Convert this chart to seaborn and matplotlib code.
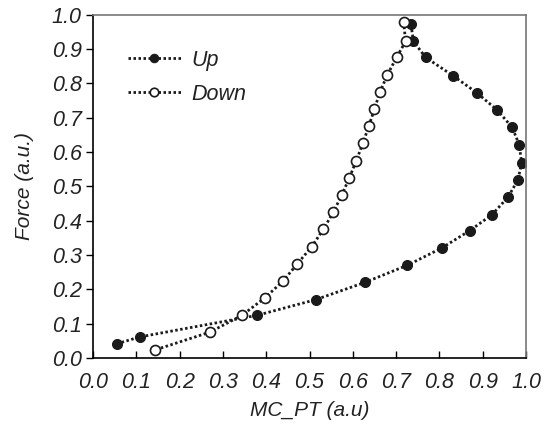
import matplotlib
matplotlib.use("Agg")
import matplotlib.pyplot as plt
import seaborn as sns
import pandas as pd

up_x = [0.055, 0.108, 0.379, 0.515, 0.628, 0.726, 0.805, 0.870, 0.921, 0.958,
        0.981, 0.990, 0.984, 0.968, 0.933, 0.886, 0.831, 0.768, 0.740, 0.734]
up_y = [0.041, 0.061, 0.124, 0.170, 0.220, 0.270, 0.320, 0.371, 0.417, 0.468,
        0.518, 0.568, 0.622, 0.672, 0.723, 0.773, 0.823, 0.876, 0.923, 0.974]
down_x = [0.717, 0.722, 0.702, 0.680, 0.663, 0.650, 0.637, 0.623, 0.608, 0.592,
          0.575, 0.555, 0.532, 0.505, 0.471, 0.439, 0.396, 0.344, 0.270, 0.143]
down_y = [0.980, 0.923, 0.878, 0.826, 0.776, 0.726, 0.676, 0.625, 0.575, 0.525,
          0.476, 0.425, 0.375, 0.324, 0.273, 0.224, 0.174, 0.124, 0.075, 0.023]
x_ticks = [0.0, 0.1, 0.2, 0.3, 0.4, 0.5, 0.6, 0.7, 0.8, 0.9, 1.0]
y_ticks = [0.0, 0.1, 0.2, 0.3, 0.4, 0.5, 0.6, 0.7, 0.8, 0.9, 1.0]

sns.set_style("white")
plt.rcParams['font.family'] = ['Liberation Sans', 'DejaVu Sans']

fig = plt.figure(figsize=(5.44, 4.25), dpi=100)
ax = fig.add_axes([0.171, 0.158, 0.796, 0.807])

df_up = pd.DataFrame({"x": up_x, "y": up_y})
df_dn = pd.DataFrame({"x": down_x, "y": down_y})

dot = (0, (0.9, 0.9))
sns.lineplot(data=df_up, x="x", y="y", sort=False, ax=ax, color="#1a1a1a",
             linestyle=dot, linewidth=2.0, marker="o", markersize=7.2,
             markerfacecolor="#1a1a1a", markeredgecolor="#1a1a1a", label="Up")
sns.lineplot(data=df_dn, x="x", y="y", sort=False, ax=ax, color="#1a1a1a",
             linestyle=dot, linewidth=2.0, marker="o", markersize=7.2,
             markerfacecolor="white", markeredgecolor="#1a1a1a",
             markeredgewidth=1.2, label="Down")

ax.set_xlim(0, 1.0)
ax.set_ylim(0, 1.0)
ax.set_xticks(x_ticks)
ax.set_yticks(y_ticks)
ax.set_xticklabels([f"{t:.1f}" for t in x_ticks])
ax.set_yticklabels([f"{t:.1f}" for t in y_ticks])

for lab in ax.get_xticklabels() + ax.get_yticklabels():
    lab.set_fontstyle("italic")
    lab.set_fontsize(15.5)
    lab.set_color("#222222")

ax.tick_params(axis="x", direction="in", length=5, width=1, color="black", pad=10,
               bottom=True)
ax.tick_params(axis="y", direction="out", length=5, width=1, color="black", pad=3,
               left=True)

for side in ["left", "bottom"]:
    ax.spines[side].set_color("black")
    ax.spines[side].set_linewidth(1.2)
for side in ["top", "right"]:
    ax.spines[side].set_color("#777777")
    ax.spines[side].set_linewidth(1.2)

ax.set_xlabel("MC_PT (a.u)", fontsize=15, fontstyle="italic", color="#222222", labelpad=6)
ax.set_ylabel("Force (a.u.)", fontsize=15, fontstyle="italic", color="#222222", labelpad=13)

leg = ax.legend(loc="upper left", bbox_to_anchor=(0.035, 0.955), frameon=False,
                fontsize=15.5, handlelength=2.5, handletextpad=0.45,
                labelspacing=0.62, markerscale=0.85)
for t in leg.get_texts():
    t.set_fontstyle("italic")
    t.set_color("#222222")

fig.savefig("out.png", dpi=100)
